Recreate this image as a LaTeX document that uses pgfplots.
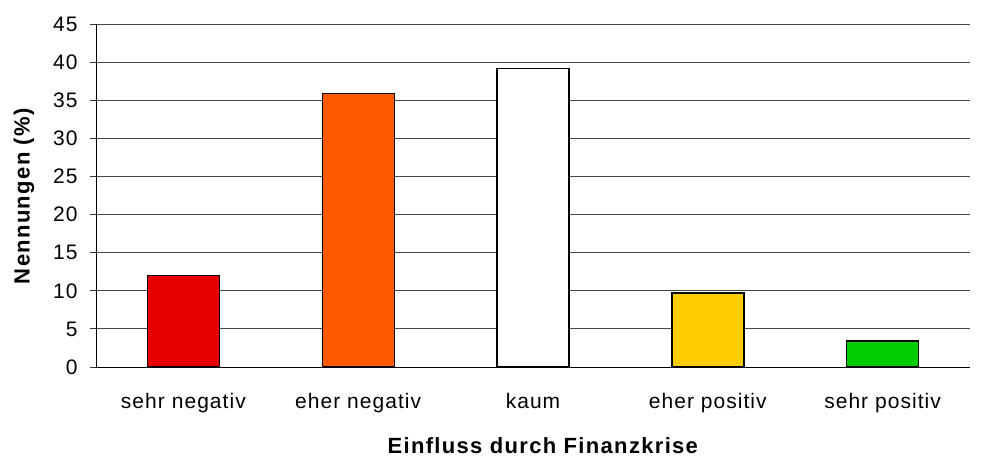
\documentclass[border=0pt]{standalone}
\usepackage{pgfplots}
\pgfplotsset{compat=1.18}
\usepackage{fontspec}
\setmainfont{Liberation Sans}
\definecolor{cRed}{HTML}{E60000}
\definecolor{cOrange}{HTML}{FF5A00}
\definecolor{cYellow}{HTML}{FFCC00}
\definecolor{cGreen}{HTML}{00CC00}
\begin{document}
\begin{tikzpicture}[x=1pt,y=1pt]
\path[use as bounding box] (-96,-90) rectangle (885,367);
\begin{axis}[
  at={(0,0)}, anchor=south west,
  scale only axis, width=874pt, height=343pt,
  ymin=0, ymax=45, ytick={0,5,...,45},
  xmin=-0.5, xmax=4.5,
  xtick={0,1,2,3,4},
  xticklabels={sehr negativ, eher negativ, kaum, eher positiv, sehr positiv},
  major x tick style={draw=none},
  extra x ticks={-0.5,0.5,1.5,2.5,3.5,4.5},
  extra x tick labels={},
  extra x tick style={major tick length=6pt, tick style={black, line width=0.8pt}},
  axis x line*=bottom, axis y line*=left,
  axis line style={-, black, line width=0.9pt},
  tick align=outside,
  major tick length=6pt,
  ytick style={black!80, line width=0.8pt},
  ymajorgrids, grid style={black!72, line width=0.8pt},
  ybar, bar width=72pt, bar shift=0pt,
  /pgf/number format/assume math mode=true,
  tick label style={font=\fontsize{21}{24}\selectfont\addfontfeatures{LetterSpace=5}},
  yticklabel style={anchor=east, xshift=-9pt},
  xticklabel style={anchor=base, yshift=-35pt},
  xlabel={\textbf{Einfluss durch Finanzkrise}},
  ylabel={\textbf{Nennungen (\%)}},
  label style={font=\fontsize{22}{25}\selectfont\addfontfeatures{LetterSpace=6}},
  xlabel style={at={(axis description cs:0.512,-0.252)}, anchor=base},
  ylabel style={at={(axis description cs:-0.0825,0.5)}, anchor=center},
]
\addplot[fill=cRed, draw=black, line width=1.4pt] coordinates {(0,12.0)};
\addplot[fill=cOrange, draw=black, line width=1.4pt] coordinates {(1,35.9)};
\addplot[fill=white, draw=black, line width=1.4pt] coordinates {(2,39.2)};
\addplot[fill=cYellow, draw=black, line width=1.4pt] coordinates {(3,9.7)};
\addplot[fill=cGreen, draw=black, line width=1.4pt] coordinates {(4,3.4)};
\end{axis}
\end{tikzpicture}
\end{document}
